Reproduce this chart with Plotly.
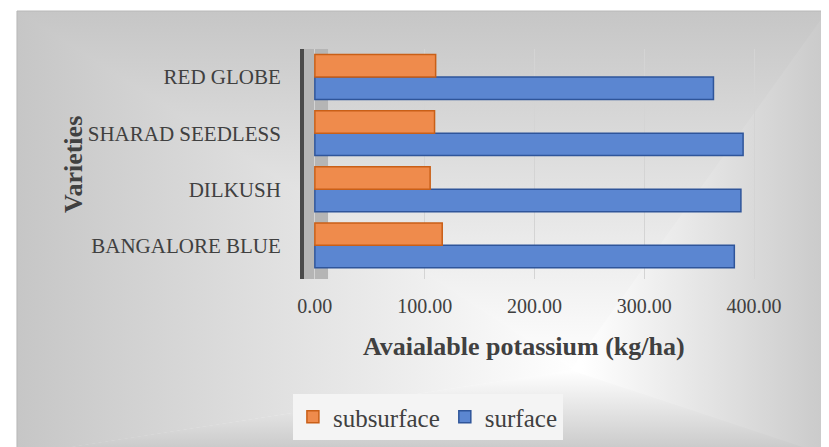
import plotly.graph_objects as go

# data
varieties = ["BANGALORE BLUE", "DILKUSH", "SHARAD SEEDLESS", "RED GLOBE"]
surface = [382, 388, 390, 363]
subsurface = [116, 105, 109, 110]
tick_vals = [0, 100, 200, 300, 400]
tick_text = ["0.00", "100.00", "200.00", "300.00", "400.00"]

W, H = 829, 447
OFF = 8  # page body margin shifts the figure by this much
SERIF = "Liberation Serif, Times New Roman, serif"
TXT = "#404040"
EDGE = "#c6c6c6"


def px(p):
    return (p - OFF) / W


def py(p):
    return 1 - (p - OFF) / H


fig = go.Figure()

# chart-area background: rectangular path gradient from a light spot to the edges
cx, cy = 575, 370
x0, y0, x1, y1 = 10, 11, W + OFF, H + OFF
bg_parts = [
    ([cx, x0, x1, cx], [cy, y0, y0, cy], "vertical", y0, cy, [[0, EDGE], [1, "#ffffff"]]),
    ([cx, x0, x1, cx], [cy, y1, y1, cy], "vertical", cy, y1, [[0, "#ffffff"], [1, EDGE]]),
    ([cx + 2, x0 + 3, x0, x0, x0 + 3, cx + 2], [cy, y0, y0, y1, y1, cy],
     "horizontal", x0, cx, [[0, EDGE], [1, "#ffffff"]]),
    ([cx - 2, x1 - 3, x1, x1, x1 - 3, cx - 2], [cy, y0, y0, y1, y1, cy],
     "horizontal", cx, x1, [[0, "#ffffff"], [1, EDGE]]),
]
for xs, ys, orient, start, stop, cs in bg_parts:
    fig.add_trace(go.Scatter(
        x=xs, y=ys, mode="lines", fill="toself", line=dict(width=0),
        fillgradient=dict(type=orient, start=start, stop=stop, colorscale=cs),
        hoverinfo="skip", showlegend=False, xaxis="x", yaxis="y"))

# thin frame on top/left
fig.add_trace(go.Scatter(x=[x0, x0, x1], y=[y1, y0, y0], mode="lines",
                         line=dict(color="#b8b8b8", width=1),
                         hoverinfo="skip", showlegend=False, xaxis="x", yaxis="y"))

# bars
fig.add_trace(go.Bar(
    y=varieties, x=surface, orientation="h", name="surface",
    marker=dict(color="#5b86d1", line=dict(color="#2f559a", width=1.5)),
    xaxis="x2", yaxis="y2"))
fig.add_trace(go.Bar(
    y=varieties, x=subsurface, orientation="h", name="subsurface",
    marker=dict(color="#ef8b4c", line=dict(color="#c95f17", width=1.5)),
    xaxis="x2", yaxis="y2"))

fig.update_layout(
    width=W, height=H,
    margin=dict(l=0, r=0, t=0, b=0),
    paper_bgcolor="white",
    plot_bgcolor="rgba(0,0,0,0)",
    barmode="group",
    bargap=0.2,
    bargroupgap=0,
    font=dict(family=SERIF, color=TXT, size=20),
    xaxis=dict(domain=[0, 1], range=[OFF, W + OFF], visible=False, fixedrange=True),
    yaxis=dict(domain=[0, 1], range=[H + OFF, OFF], visible=False, fixedrange=True),
    xaxis2=dict(
        domain=[px(302), px(780)], range=[-9.85, 418.1], anchor="y2",
        tickvals=tick_vals, ticktext=tick_text,
        showgrid=True, gridcolor="#d4d4d4", gridwidth=1,
        zeroline=False, showline=False, ticks="",
        ticklabelstandoff=13,
        tickfont=dict(family=SERIF, size=20, color=TXT),
    ),
    yaxis2=dict(
        domain=[py(279), py(49)], anchor="x2",
        showgrid=False, zeroline=False,
        showline=True, linecolor="#4a4a4a", linewidth=4,
        ticks="", ticklabelstandoff=15,
        tickfont=dict(family=SERIF, size=21, color=TXT),
    ),
    legend=dict(
        orientation="h", traceorder="reversed",
        x=px(428), xanchor="center", y=py(417), yanchor="middle",
        bgcolor="#f4f4f4", itemwidth=30,
        font=dict(family=SERIF, size=25, color=TXT),
    ),
    shapes=[
        # grey side wall behind the bars
        dict(type="rect", xref="x2", yref="y2", x0=-9.85, x1=12,
             y0=-0.6, y1=3.5, fillcolor="#b5b5b5", line=dict(width=0),
             layer="below"),
    ],
    annotations=[
        dict(text="<b>Avaialable potassium (kg/ha)</b>", xref="paper", yref="paper",
             x=px(526), y=py(346), xanchor="center", yanchor="middle", showarrow=False,
             font=dict(family=SERIF, size=26, color=TXT)),
        dict(text="<b>Varieties</b>", xref="paper", yref="paper",
             x=px(68), y=py(164), xanchor="center", yanchor="middle",
             showarrow=False, textangle=-90,
             font=dict(family=SERIF, size=26, color=TXT)),
    ],
)

fig.write_html("out.html")
